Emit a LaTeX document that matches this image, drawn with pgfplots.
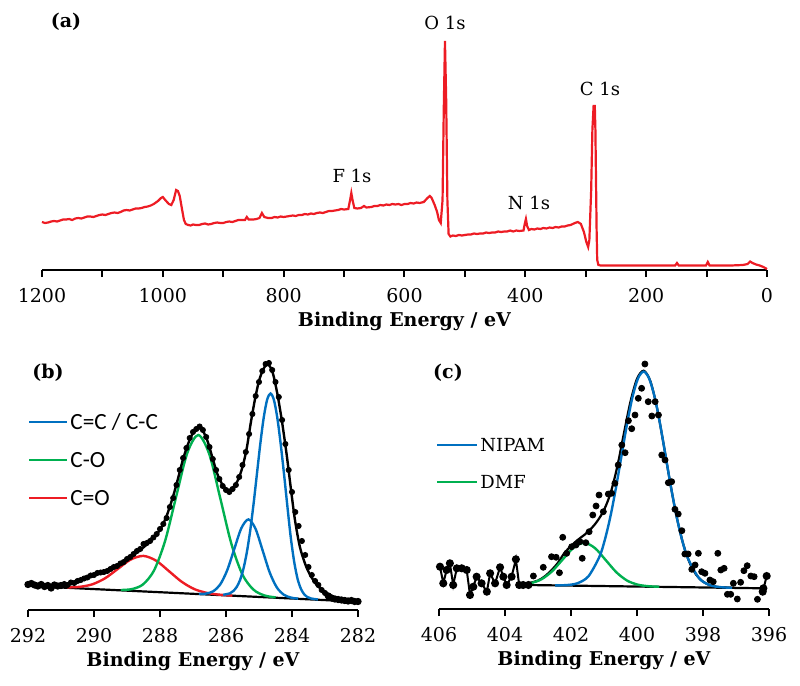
\documentclass[border=0pt]{standalone}
\usepackage{fontspec}
\setmainfont{DejaVu Serif}
\newfontfamily\legfont{Carlito}
\usepackage{pgfplots}
\pgfplotsset{compat=1.18}
\definecolor{xred}{RGB}{237,28,36}
\definecolor{xblue}{RGB}{0,112,192}
\definecolor{xgreen}{RGB}{0,176,80}
\pgfplotsset{
  xps/.style={scale only axis, anchor=south west,
    axis x line=bottom, axis y line=none, x dir=reverse,
    axis line style={line width=1pt,-}, tick style={line width=1pt,black},
    tick align=outside, major tick length=3.5pt, minor tick length=3.5pt,
    ymin=0, clip=false,
    /pgf/number format/assume math mode=true,
    /pgf/number format/1000 sep={},
    xticklabel style={font=\fontsize{9.5}{11}\selectfont, yshift=-2pt},
    xlabel style={font=\bfseries\fontsize{9.5}{11}\selectfont, yshift=2pt},
    xlabel={Binding Energy / eV}},
}
\begin{document}
\begin{tikzpicture}[x=1pt,y=1pt]
\useasboundingbox (0,0) rectangle (400,-343);
% ---------------- (a) survey
\begin{axis}[xps, at={(21pt,-135pt)}, width=362.5pt, height=125pt,
  xmin=0, xmax=1200, ymax=250,
  xtick={0,200,...,1200}, minor xtick={100,300,...,1100}]
\addplot[xred, line width=1.1pt] coordinates {
(1200,48)(1195,47)(1190,47.5)(1185,48.5)(1180,49)(1175,48.5)(1170,49.5)(1165,50.5)(1160,50.5)(1155,51)(1150,50)
(1145,51.5)(1140,52)(1135,51.5)(1130,52.5)(1125,53.5)(1120,53.5)(1115,53)(1110,54)(1105,55)(1100,55.5)
(1095,55)(1090,56)(1085,57)(1080,57.5)(1075,57)(1070,58)(1065,59.5)(1060,60)(1055,59.5)(1050,60.5)
(1045,61.5)(1040,61.5)(1035,62)(1030,63)(1025,63.5)(1020,64.5)(1015,66)
(1008,69)(1003,72)(1000,73)(996,70)(990,66)(986,65)(982,70)(978,80)(975,79)(972,74)(968,60)(965,50)
(962,46)(958,45)(954,44.5)(950,45.5)(945,45)(940,45)(935,46)(930,46.5)(925,45.5)(920,46)(915,47)(910,47.5)
(905,47)(900,47)(895,48)(890,48.5)(885,48)(880,49)(875,50)(870,50)
(864,50)(861,53)(858,50.5)(850,50.5)(845,51)(840,52)(836,57)(832,53)(826,52)(820,52)(815,53)(810,52.5)(805,53.5)(800,53)
(795,53.5)(790,54)(785,54.5)(780,54)(775,55)(770,55)(765,56)(760,55.5)(755,56.5)(750,56)(745,57)(740,57.5)
(735,57)(730,58)(725,59)(720,59)(715,59.5)(710,60)(705,61)(700,60.5)(693,61)
(690,70)(688,77)(686,70)(683,62)(678,61.5)(672,62)(667,64)(663,62.5)(655,63)(650,64)(645,64)(640,65)(635,64.5)
(630,65.5)(625,65)(620,66)(615,65.5)(610,66)(605,65)(600,66)(595,66)(590,67)(585,66.5)(580,67.5)(575,67)(568,68)(562,72)(558,74)(555,72)(550,65)
(546,58)(543,50)(540,47)(537,70)(535,160)(533,229)(531,170)(529,70)(527,36)(524,33.5)(520,34.5)(515,34)
(510,35)(505,34.5)(500,35)(495,35.5)(490,35.5)(485,36.5)(480,36)(475,36.5)(470,36.5)(465,37.5)(460,37)(455,37.5)(450,37.5)
(445,38.5)(440,38)(435,38.5)(430,38.5)(425,39.5)(420,38.5)(415,39.5)(410,39)
(403,39.5)(401,46)(399,51)(397,44)(394,40)(390,41)(385,40.5)(380,41.5)(375,41)(370,42)(365,41.5)(360,42.5)(355,42)
(350,43)(345,42.5)(340,43.5)(335,43.5)(330,44.5)(325,45)(318,47)(313,48)(308,46)(303,38)(299,28)(296,23)(294,30)(291,80)(289,140)(287,164)
(285,164)(284,140)(283,90)(282,40)(281,10)(279,5)(275,4.5)(260,4.5)(240,4.5)(220,4.5)(200,4.5)
(180,4.5)(160,4.5)(152,4.5)(149,7)(146,4.5)(130,4.5)(110,4.5)(101,4.5)(98,8)(95,4.5)(80,4.5)
(60,4.5)(40,5)(32,6)(28,8.5)(24,7)(18,5.5)(12,4.5)(6,3)(0,1)};
\end{axis}
% ---------------- (b) C 1s
\begin{axis}[xps, at={(14pt,-305pt)}, width=165pt, height=130pt,
  xmin=282, xmax=292, ymax=260, xtick={282,284,...,292}]
\addplot[black, line width=1.1pt] coordinates {(291.0,22.5)(282.3,8.8)};
\addplot[xred, line width=1.2pt, smooth] coordinates {
(290.81,22.6)(290.425,23.2)(290.04,25.8)(289.655,31.9)(289.27,41.3)(288.885,50.5)(288.5,54.1)
(288.115,49.3)(287.73,38.9)(287.345,28.3)(286.96,20.9)(286.575,17.1)(286.19,15.3)(285.805,14.4)};
\addplot[xgreen, line width=1.2pt, smooth] coordinates {
(289.185,20.0)(288.85,20.9)(288.515,25.6)(288.18,39.6)(287.845,69.1)(287.51,113.4)(287.175,156.8)
(286.84,175.0)(286.505,155.7)(286.17,111.3)(285.835,66.0)(285.50,35.3)(285.165,20.3)(284.83,14.5)(284.495,12.6)};
\addplot[xblue, line width=1.2pt, smooth] coordinates {
(286.825,16.1)(286.61,16.4)(286.395,18.6)(286.18,25.3)(285.965,39.6)(285.75,60.9)(285.535,81.8)
(285.32,90.6)(285.105,81.2)(284.89,59.6)(284.675,37.5)(284.46,22.6)(284.245,15.2)(284.03,12.4)(283.815,11.35)};
\addplot[xblue, line width=1.2pt, smooth] coordinates {
(286.085,15.2)(285.88,16.7)(285.7775,19.0)(285.675,23.1)(285.5725,30.1)(285.47,41.4)(285.3675,57.8)
(285.265,79.7)(285.1625,106.7)(285.06,136.8)(284.9575,167.0)(284.855,192.8)(284.7525,210.4)(284.65,216.5)
(284.5475,210.0)(284.445,192.2)(284.3425,166.0)(284.24,135.5)(284.1375,103.0)(284.035,72.0)(283.9325,48.0)
(283.83,31.0)(283.7275,21.0)(283.625,15.5)(283.5225,12.8)(283.42,11.5)(283.215,10.5)};
\addplot[black, line width=1.2pt, smooth] coordinates {
(291.0,23.5)(290.6,27)(290.2,32.5)(289.8,37)(289.5,40.5)(289.2,46)(288.9,53)(288.6,60)(288.4,65.5)
(288.2,72)(288.0,80)(287.8,94)(287.6,114)(287.45,132)(287.3,151)(287.15,166)(287.0,177)(286.85,182)
(286.7,179)(286.55,168)(286.4,151)(286.25,135)(286.1,125)(285.95,120)(285.8,122)(285.65,129)(285.5,143)
(285.37,162)(285.25,187)(285.12,211)(285.0,229)(284.88,240)(284.75,246)(284.6,239)(284.46,219)
(284.31,190)(284.16,155)(284.04,123)(283.91,90)(283.76,63)(283.6,46)(283.45,35)(283.25,25)(283.05,19)
(282.85,15)(282.6,11)(282.4,9.5)};
\addplot[black, line width=1pt, mark=*, mark size=1.3pt] coordinates {
(292.0,25.5)(291.9,26.5)(291.8,25)(291.7,24)(291.6,25.5)(291.5,23.5)(291.4,24.5)(291.3,22)(291.2,25)(291.1,24)(291.0,24.5)};
\addplot[black, only marks, mark=*, mark size=1.3pt] coordinates {
(290.9,26)(290.8,25)(290.7,27.5)(290.6,27)(290.5,29)(290.4,30)(290.3,31.5)(290.2,32.5)(290.1,34.5)
(290.0,35)(289.9,37)(289.8,37.5)(289.7,38)(289.6,39)(289.5,41)(289.4,43)(289.3,44)(289.2,46.5)(289.1,48)
(289.0,51)(288.9,53)(288.8,56)(288.7,59)(288.6,61)(288.5,66)(288.4,67)(288.3,69)(288.2,72.5)(288.1,76)
(288.0,81)(287.9,86)(287.8,92)(287.7,103)(287.6,112)(287.5,125)(287.4,140)(287.3,152)(287.2,162)
(287.1,172)(287.0,178)(286.9,181)(286.8,183.5)(286.7,180)(286.6,173)(286.5,163)(286.4,151)(286.3,140)
(286.2,131)(286.1,124)(286.0,120)(285.9,118)(285.8,121)(285.7,125)(285.6,133)(285.5,145)(285.4,158)
(285.3,176)(285.2,196)(285.1,214)(285.0,228)(284.9,239)(284.8,246)(284.7,247)(284.6,240)(284.5,228)
(284.4,213)(284.3,190)(284.2,166)(284.1,140)(284.0,118)(283.9,98)(283.8,84)(283.7,69)(283.6,55)
(283.5,43)(283.4,35)(283.3,29)(283.2,25)(283.1,20)(283.0,17)};
\addplot[black, line width=1pt, mark=*, mark size=1.3pt] coordinates {
(282.9,14)(282.8,12)(282.7,11)(282.6,10.5)(282.5,10)(282.4,9.5)(282.3,9)(282.2,9.5)(282.1,8.5)(282.0,8.5)};
\end{axis}
% ---------------- (c) N 1s
\begin{axis}[xps, at={(219.5pt,-304.5pt)}, width=165pt, height=130pt,
  xmin=396, xmax=406, ymax=260, xtick={396,398,...,406}]
\addplot[black, line width=1.1pt] coordinates {(403.4,24.03)(396.17,20.7)};
\addplot[black, line width=1.1pt, smooth] coordinates {
(403.4,25.5)(403.2,26.5)(403.0,28.5)(402.8,32.5)(402.6,38.5)(402.4,46)(402.2,56)(402.0,63)
(401.8,69)(401.6,74)(401.4,80)(401.2,88)(401.0,99)(400.8,116)(400.6,142)(400.4,175)
(400.2,207)(400.0,230.1)(399.8,238.3)(399.6,228.3)(399.4,202.2)(399.2,166.0)(399.0,127.3)(398.8,92.5)
(398.6,65.1)(398.4,45.9)(398.2,34.0)(398.0,27.4)(397.8,23.9)(397.6,22.3)(397.4,21.6)(397.2,21.3)(397.0,21.1)};
\addplot[xgreen, line width=1.2pt, smooth] coordinates {
(403.55,24.57)(403.225,25.84)(402.9,29.62)(402.575,37.65)(402.25,49.6)(401.925,61.25)(401.6,66.2)
(401.275,60.95)(400.95,49.0)(400.625,36.75)(400.3,28.42)(399.975,24.34)(399.65,22.78)(399.325,22.24)};
\addplot[xblue, line width=1.2pt, smooth] coordinates {
(402.48,23.7)(402.145,23.9)(401.81,25.7)(401.475,32.6)(401.14,52.1)(400.9725,69.4)(400.805,92.6)
(400.6375,121.2)(400.47,153.1)(400.3025,184.9)(400.135,212.2)(399.9675,230.7)(399.8,237.4)(399.6325,230.6)
(399.465,211.9)(399.2975,184.4)(399.13,152.5)(398.9625,120.4)(398.795,91.7)(398.6275,68.3)(398.46,50.9)
(398.125,31.0)(397.79,23.8)(397.455,21.8)(397.12,21.2)};
\addplot[black, line width=1pt, mark=*, mark size=1.5pt] coordinates {
(405.97,42.3)(405.87,25.7)(405.77,39)(405.67,45.7)(405.57,24)(405.46,40.7)(405.31,40.7)(405.16,39)
(405.06,14)(404.96,22.3)(404.86,32.3)(404.71,25.7)(404.55,17.3)(404.45,35.7)(404.30,25.7)(404.15,41.7)
(404.05,32.3)(403.95,24)(403.80,32.3)(403.67,49.7)(403.57,24)(403.45,24)(403.29,24)};
\addplot[black, only marks, mark=*, mark size=1.5pt] coordinates {
(403.14,33)(402.84,41.7)(402.59,52.3)(402.45,51.7)(402.35,36.3)(402.25,71.7)(402.13,55.7)(401.98,62.3)
(401.85,64)(401.73,67.3)(401.66,50.7)(401.55,66.3)(401.45,77.3)(401.34,94)(401.24,103)(401.15,114)
(401.02,97.3)(400.87,115)(400.77,115.7)(400.67,125.7)(400.57,144)(400.46,164)(400.36,156.3)(400.26,188.3)
(400.16,180.3)(400.06,194)(399.96,210.7)(399.86,220.7)(399.76,245)(399.66,207.3)(399.55,193)(399.45,207.3)
(399.35,194)(399.25,154)(399.15,149)(399.05,126.3)(398.95,127.3)(398.85,99.7)(398.75,95)(398.64,78.3)
(398.55,55)(398.45,55)(398.34,39.7)(398.24,44)(398.14,55.7)(398.04,37.3)(397.94,35.7)(397.79,29)
(397.69,27.3)(397.55,55.7)(397.46,39)(397.36,40.7)(397.26,14.7)(397.16,14.7)(397.08,25.7)(396.96,10)
(396.86,26.7)(396.76,38.3)(396.66,43.3)(396.55,33)(396.45,32.3)(396.35,9.7)};
\addplot[black, line width=1pt, mark=*, mark size=1.5pt] coordinates {(396.17,20.7)(396.19,17.3)(396.07,33)};
\end{axis}
% ---------------- labels
\node[font=\bfseries\fontsize{9.5}{11}\selectfont] at (33,-11) {(a)};
\node[font=\fontsize{9}{11}\selectfont] at (222.5,-11.5) {O 1s};
\node[font=\fontsize{9}{11}\selectfont] at (300,-44.5) {C 1s};
\node[font=\fontsize{9}{11}\selectfont] at (264.5,-101.5) {N 1s};
\node[font=\fontsize{9}{11}\selectfont] at (176,-88) {F 1s};
\node[font=\bfseries\fontsize{9.5}{11}\selectfont] at (24,-186.5) {(b)};
\node[font=\bfseries\fontsize{9.5}{11}\selectfont] at (224,-186.5) {(c)};
% legend (b)
\draw[xblue, line width=1.2pt] (14.5,-211) -- (33.5,-211);
\node[anchor=west, inner sep=0pt, font=\legfont\fontsize{11.6}{13}\selectfont] at (35,-211) {C=C / C-C};
\draw[xgreen, line width=1.2pt] (14.5,-230) -- (33.5,-230);
\node[anchor=west, inner sep=0pt, font=\legfont\fontsize{11.6}{13}\selectfont] at (35,-230) {C-O};
\draw[xred, line width=1.2pt] (14.5,-249) -- (33.5,-249);
\node[anchor=west, inner sep=0pt, font=\legfont\fontsize{11.6}{13}\selectfont] at (35,-249) {C=O};
% legend (c)
\draw[xblue, line width=1pt] (218.5,-222.5) -- (238.5,-222.5);
\node[anchor=west, inner sep=0pt, font=\fontsize{9}{11}\selectfont] at (240,-222.5) {NIPAM};
\draw[xgreen, line width=1pt] (218.5,-241) -- (238.5,-241);
\node[anchor=west, inner sep=0pt, font=\fontsize{9}{11}\selectfont] at (240,-241) {DMF};
\end{tikzpicture}
\end{document}
